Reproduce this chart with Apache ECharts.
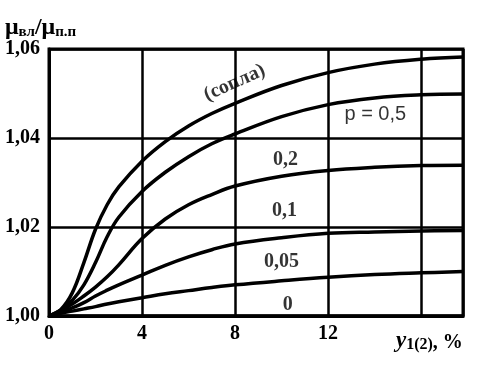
<!DOCTYPE html>
<html>
<head>
<meta charset="utf-8">
<script src="https://cdn.jsdelivr.net/npm/echarts@6/dist/echarts.min.js"></script>
<style>html,body{margin:0;padding:0;background:#fff}#c{width:494px;height:366px}</style>
</head>
<body>
<div id="c"></div>
<script>
// x values (y1(2), %)
var xValues = [0, 0.5, 1, 1.5, 2, 2.5, 3, 4, 5, 6, 7, 8, 10, 12, 14, 16, 17.8];
// curves: μвл/μп.п
var nozzle = [1.000, 1.0014, 1.0052, 1.0120, 1.0195, 1.0250, 1.0290, 1.0348, 1.0392, 1.0427, 1.0455, 1.0478, 1.0518, 1.0547, 1.0566, 1.0577, 1.0582];
var p05    = [1.000, 1.0012, 1.0035, 1.0070, 1.0120, 1.0178, 1.0222, 1.0280, 1.0323, 1.0358, 1.0387, 1.0409, 1.0448, 1.0475, 1.0490, 1.0497, 1.0499];
var p02    = [1.000, 1.0013, 1.0027, 1.0045, 1.0065, 1.0088, 1.0115, 1.0174, 1.0218, 1.0250, 1.0273, 1.0292, 1.0314, 1.0327, 1.0334, 1.0338, 1.0339];
var p01    = [1.000, 1.0009, 1.0018, 1.0030, 1.0045, 1.0058, 1.0070, 1.0092, 1.0114, 1.0133, 1.0149, 1.0162, 1.0176, 1.0186, 1.0189, 1.0191, 1.0192];
var p005   = [1.000, 1.0006, 1.0011, 1.0016, 1.0021, 1.0027, 1.0032, 1.0041, 1.0050, 1.0057, 1.0064, 1.0070, 1.0079, 1.0087, 1.0093, 1.0097, 1.0100];
var p0     = [1.000, 1.000, 1.000, 1.000, 1.000, 1.000, 1.000, 1.000, 1.000, 1.000, 1.000, 1.000, 1.000, 1.000, 1.000, 1.000, 1.000];
// curve label texts and their anchors in data units
var labelTexts = ['(сопла)', 'p = 0,5', '0,2', '0,1', '0,05', '0'];
var labelX = [7.98, 14.03, 10.17, 10.13, 10.0, 10.26];
var labelY = [1.0524, 1.0452, 1.0351, 1.0236, 1.0121, 1.0024];
// axis ticks
var xTickLabels = [0, 4, 8, 12];
var yTicks = [1.00, 1.02, 1.04, 1.06];

var serif = '"Liberation Serif", "DejaVu Serif", serif';
function pts(ys){ return xValues.map(function(x,i){ return [x, ys[i]]; }); }
function lineSeries(ys){
  return {type:'line', data: pts(ys), smooth: 0.4, showSymbol:false, symbol:'none',
    lineStyle:{color:'#000', width:3.5}, silent:true, z:3};
}
var labelData = labelTexts.map(function(t,i){
  var o = {name:t, value:[labelX[i], labelY[i]]};
  if (i===0) o.label = {rotate:24};
  if (i===1) o.label = {fontFamily:'"Liberation Sans", Arial, sans-serif', fontWeight:'normal', fontSize:20};
  return o;
});

var chart = echarts.init(document.getElementById('c'), null, {renderer:'canvas'});
chart.setOption({
  animation:false,
  backgroundColor:'#fff',
  title:[{
    left:0, top:3,
    text:'{m|μ}{s|вл}{m|/μ}{s|п.п}',
    textStyle:{rich:{
      m:{fontFamily:serif, fontSize:24, fontWeight:'bold', color:'#000', lineHeight:32, verticalAlign:'bottom'},
      s:{fontFamily:serif, fontSize:15, fontWeight:'bold', color:'#000', lineHeight:10, verticalAlign:'bottom'}
    }}
  },{
    left:391, top:316,
    text:'{i|y}{s|1(2)}{m|, %}',
    textStyle:{rich:{
      i:{fontFamily:serif, fontSize:23, fontStyle:'italic', color:'#000', lineHeight:32, verticalAlign:'bottom'},
      s:{fontFamily:serif, fontSize:16, fontWeight:'bold', color:'#000', lineHeight:12, verticalAlign:'bottom'},
      m:{fontFamily:serif, fontSize:20, fontWeight:'bold', color:'#000', lineHeight:32, verticalAlign:'bottom'}
    }}
  }],
  grid:{left:49, right:31, top:49, bottom:50, show:true, borderColor:'#000', borderWidth:3, backgroundColor:'transparent'},
  xAxis:{type:'value', min:0, max:17.8, interval:4,
    axisLine:{show:true, lineStyle:{color:'#000', width:3}},
    axisTick:{show:false},
    splitLine:{show:true, lineStyle:{color:'#000', width:2.5}},
    axisLabel:{show:true, margin:8, showMaxLabel:false, color:'#000', fontFamily:serif, fontSize:20, fontWeight:'bold',
      formatter:function(v){ return xTickLabels.indexOf(v) >= 0 ? String(v) : ''; }}
  },
  yAxis:{type:'value', min:1.00, max:1.06, interval:0.02,
    axisLine:{show:true, lineStyle:{color:'#000', width:3}},
    axisTick:{show:false},
    splitLine:{show:true, lineStyle:{color:'#000', width:2.5}},
    axisLabel:{show:true, margin:9, color:'#000', fontFamily:serif, fontSize:20, fontWeight:'bold', padding:[10,0,0,0],
      formatter:function(v){
        for (var k=0;k<yTicks.length;k++){ if (Math.abs(v-yTicks[k])<1e-6) return yTicks[k].toFixed(2).replace('.',','); }
        return '';
      }}
  },
  series:[
    lineSeries(nozzle), lineSeries(p05), lineSeries(p02), lineSeries(p01), lineSeries(p005), lineSeries(p0),
    {type:'scatter', data:labelData, symbolSize:0, silent:true, z:5,
      label:{show:true, position:'inside', color:'#000', fontFamily:serif, fontSize:20, fontWeight:'bold',
        formatter:function(p){ return p.name; }},
      emphasis:{disabled:true}
    }
  ]
});
</script>
</body>
</html>
